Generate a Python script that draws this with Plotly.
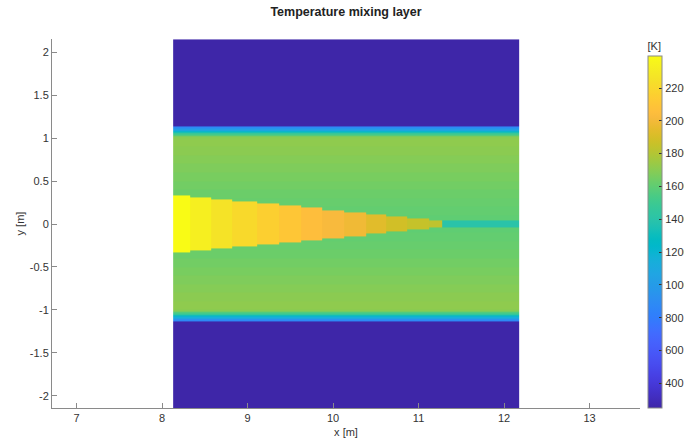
import numpy as np
import plotly.graph_objects as go

title_text = "Temperature mixing layer"
x_label = "x [m]"
y_label = "y [m]"
cbar_label = "[K]"

# column edges along x [m]
col_edges = [8.13, 8.327, 8.58, 8.82, 9.117, 9.374, 9.63, 9.877, 10.134,
             10.39, 10.626, 10.871, 11.129, 11.28, 12.175]
# hot core: half-width [m] and temperature [K] per column
core_halfwidth = [0.336, 0.311, 0.286, 0.262, 0.238, 0.213, 0.189, 0.164,
                  0.14, 0.113, 0.087, 0.06, 0.037, 0.037]
core_temp = [2395, 2327, 2259, 2208, 2157, 2106, 2055, 2020, 1986, 1935,
             1884, 1850, 1833, 1400]

# surrounding profile vs |y|: band upper bound [m] and temperature [K]
prof_y = [0.1, 0.2, 0.3, 0.4, 0.5, 0.6, 0.7, 0.8, 0.9, 1.0, 1.02,
          1.035, 1.05, 1.065, 1.08, 1.095, 1.11, 1.133, 2.15]
prof_T = [1600, 1608, 1618, 1630, 1645, 1660, 1675, 1690, 1705, 1715, 1700,
          1620, 1520, 1400, 1270, 1140, 1010, 880, 250]

z_min, z_max = 250, 2395
cbar_ticks = [400, 600, 800, 1000, 1200, 1400, 1600, 1800, 2000, 2200]
x_ticks = [7, 8, 9, 10, 11, 12, 13]
y_ticks = [-2, -1.5, -1, -0.5, 0, 0.5, 1, 1.5, 2]
y_ticktext = ["-2", "-1.5", "-1", "-0.5", "0", "0.5", "1", "1.5", "2"]

parula = [
    (0.2422, 0.1504, 0.6603), (0.2504, 0.1650, 0.7076), (0.2578, 0.1818, 0.7511),
    (0.2647, 0.1978, 0.7952), (0.2706, 0.2147, 0.8364), (0.2751, 0.2342, 0.8710),
    (0.2783, 0.2559, 0.8991), (0.2803, 0.2782, 0.9221), (0.2813, 0.3006, 0.9414),
    (0.2810, 0.3228, 0.9579), (0.2795, 0.3447, 0.9717), (0.2760, 0.3667, 0.9829),
    (0.2699, 0.3892, 0.9906), (0.2602, 0.4123, 0.9952), (0.2440, 0.4358, 0.9988),
    (0.2206, 0.4603, 0.9973), (0.1963, 0.4847, 0.9892), (0.1834, 0.5074, 0.9798),
    (0.1786, 0.5289, 0.9682), (0.1764, 0.5499, 0.9520), (0.1687, 0.5703, 0.9359),
    (0.1540, 0.5902, 0.9218), (0.1460, 0.6091, 0.9079), (0.1380, 0.6276, 0.8973),
    (0.1248, 0.6459, 0.8883), (0.1113, 0.6635, 0.8763), (0.0952, 0.6798, 0.8598),
    (0.0689, 0.6948, 0.8394), (0.0297, 0.7082, 0.8163), (0.0036, 0.7203, 0.7917),
    (0.0067, 0.7312, 0.7660), (0.0433, 0.7411, 0.7394), (0.0964, 0.7500, 0.7120),
    (0.1408, 0.7584, 0.6842), (0.1717, 0.7670, 0.6554), (0.1938, 0.7758, 0.6251),
    (0.2161, 0.7843, 0.5923), (0.2470, 0.7918, 0.5567), (0.2906, 0.7973, 0.5188),
    (0.3406, 0.8008, 0.4789), (0.3909, 0.8029, 0.4354), (0.4456, 0.8024, 0.3909),
    (0.5044, 0.7993, 0.3480), (0.5616, 0.7942, 0.3045), (0.6174, 0.7876, 0.2612),
    (0.6720, 0.7793, 0.2227), (0.7242, 0.7698, 0.1910), (0.7738, 0.7598, 0.1646),
    (0.8203, 0.7498, 0.1535), (0.8634, 0.7406, 0.1596), (0.9035, 0.7330, 0.1774),
    (0.9393, 0.7288, 0.2100), (0.9728, 0.7298, 0.2394), (0.9956, 0.7434, 0.2371),
    (0.9970, 0.7659, 0.2199), (0.9952, 0.7893, 0.2028), (0.9892, 0.8136, 0.1885),
    (0.9786, 0.8386, 0.1766), (0.9676, 0.8639, 0.1643), (0.9610, 0.8890, 0.1537),
    (0.9597, 0.9135, 0.1423), (0.9628, 0.9373, 0.1265), (0.9691, 0.9606, 0.1064),
    (0.9769, 0.9839, 0.0805),
]
n = len(parula) - 1
colorscale = [[i / n, "rgb(%d,%d,%d)" % tuple(round(c * 255) for c in rgb)]
              for i, rgb in enumerate(parula)]

# build the field table from the arrays above
pos = sorted(set(prof_y) | set(core_halfwidth))
y_edges = [-v for v in reversed(pos)] + pos
z = []
for k in range(len(y_edges) - 1):
    yc = abs(0.5 * (y_edges[k] + y_edges[k + 1]))
    bg = next(T for yu, T in zip(prof_y, prof_T) if yu > yc)
    row = []
    for j in range(len(col_edges) - 1):
        row.append(core_temp[j] if yc < core_halfwidth[j] else bg)
    z.append(row)

font_family = "Arial, Liberation Sans, Helvetica, sans-serif"

fig = go.Figure(go.Heatmap(
    x=col_edges, y=y_edges, z=z,
    colorscale=colorscale, zmin=z_min, zmax=z_max,
    hoverinfo="skip",
    colorbar=dict(
        x=1.0136, xanchor="left", xpad=0,
        y=0.5, yanchor="middle", ypad=0,
        len=1, lenmode="fraction", thickness=14,
        outlinewidth=1, outlinecolor="#8a8a8a",
        tickvals=cbar_ticks, ticks="inside", ticklen=3, tickcolor="#333",
        tickfont=dict(family=font_family, size=11, color="#333"),
        title=dict(text=cbar_label, side="top",
                   font=dict(family=font_family, size=11, color="#333")),
    ),
))

axis_common = dict(
    showgrid=False, zeroline=False, showline=True, linecolor="#8a8a8a",
    linewidth=1, ticks="inside", ticklen=5, tickcolor="#8a8a8a",
    tickfont=dict(family=font_family, size=11, color="#333"),
    mirror=False,
)

fig.update_layout(
    width=684, height=444,
    margin=dict(l=52, r=44, t=39, b=36, autoexpand=False),
    paper_bgcolor="white", plot_bgcolor="white",
    title=dict(text="<b>" + title_text + "</b>", x=0.5, xanchor="center",
               xref="paper", y=1 - 12 / 444, yanchor="middle",
               font=dict(family=font_family, size=12.5, color="#222")),
    xaxis=dict(range=[6.713, 13.59], tickvals=x_ticks,
               title=dict(text=x_label, standoff=5,
                          font=dict(family=font_family, size=11, color="#333")),
               **axis_common),
    yaxis=dict(range=[-2.143, 2.155], tickvals=y_ticks, ticktext=y_ticktext,
               title=dict(text=y_label, standoff=2,
                          font=dict(family=font_family, size=11, color="#333")),
               **axis_common),
)

fig.write_html("out.html")
